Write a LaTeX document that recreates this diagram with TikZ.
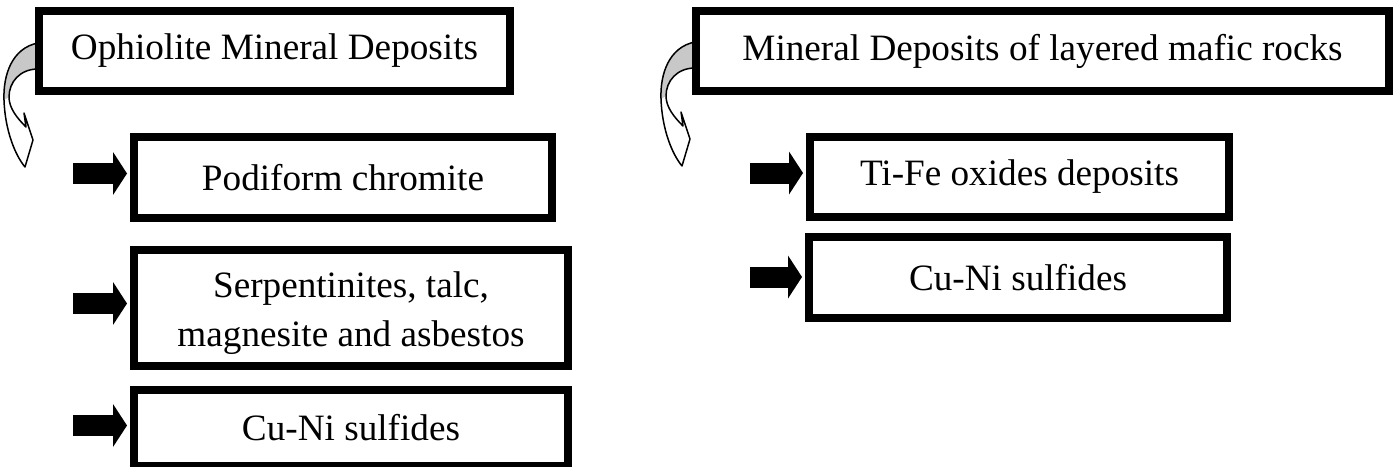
\documentclass[tikz,border=0pt]{standalone}
\usepackage{fontspec}
\setmainfont{Liberation Serif}
\usetikzlibrary{arrows.meta}
\definecolor{backband}{HTML}{C8C8C8}

\tikzset{
  depbox/.style={draw,line width=4pt,fill=white,align=center,inner sep=0pt,
    font=\fontsize{18.6}{22.5}\selectfont},
  blockarrow/.style={line width=10.5pt,-{Triangle[length=7pt,width=21.5pt,line width=0pt]},shorten >=1.5pt},
  pics/bendarrow/.style={code={
    \fill[backband] (38,43) .. controls (12,48) and (3,75) .. (4,100) -- (9,97) .. controls (9,82) and (20,69) .. (38,69) -- cycle;
    \draw[line width=0.75pt,line join=round] (38,43) .. controls (12,48) and (3,75) .. (4,100)
      .. controls (5,130) and (15,155) .. (25,167) -- (33,140) -- (24,113) -- (26,127)
      .. controls (17,118) and (9,108) .. (9,97) .. controls (9,82) and (20,69) .. (38,69);
  }}
}

\begin{document}
\begin{tikzpicture}[x=0.5pt,y=-0.5pt]
\useasboundingbox (0,0) rectangle (1397,466);

% curved arrows behind the headings
\pic at (0,0) {bendarrow};
\pic at (657,-1) {bendarrow};

% headings
\node[depbox,minimum width=235.5pt,minimum height=40pt] (ophio) at (274.5,51) {Ophiolite Mineral Deposits};
\node[depbox,minimum width=346.5pt,minimum height=40pt] (layered) at (1042.5,51) {Mineral Deposits of layered mafic rocks};

% ophiolite deposits
\node[depbox,minimum width=209pt,minimum height=40.5pt] (pod) at (343,177.5) {Podiform chromite};
\node[depbox,minimum width=217pt,minimum height=58pt] (serp) at (351,308) {\begin{tabular}{@{}c@{}}\rule{0pt}{21pt}Serpentinites, talc,\\[2pt]magnesite and asbestos\end{tabular}};
\node[depbox,minimum width=217pt,minimum height=38pt] (cunil) at (351,428) {Cu-Ni sulfides};

% layered mafic deposits
\node[depbox,minimum width=209.5pt,minimum height=40pt] (tife) at (1019.5,177) {Ti-Fe oxides deposits};
\node[depbox,minimum width=209pt,minimum height=40.5pt] (cunir) at (1018,277.5) {Cu-Ni sulfides};

% block arrows
\coordinate (podtail) at (73,173.5);
\coordinate (serptail) at (73,303.5);
\coordinate (cuniltail) at (73,425.5);
\coordinate (tifetail) at (750,173);
\coordinate (cunirtail) at (750,277);
\draw[blockarrow] (podtail) -- (podtail -| pod.west);
\draw[blockarrow] (serptail) -- (serptail -| serp.west);
\draw[blockarrow] (cuniltail) -- (cuniltail -| cunil.west);
\draw[blockarrow] (tifetail) -- (tifetail -| tife.west);
\draw[blockarrow] (cunirtail) -- (cunirtail -| cunir.west);
\end{tikzpicture}
\end{document}
